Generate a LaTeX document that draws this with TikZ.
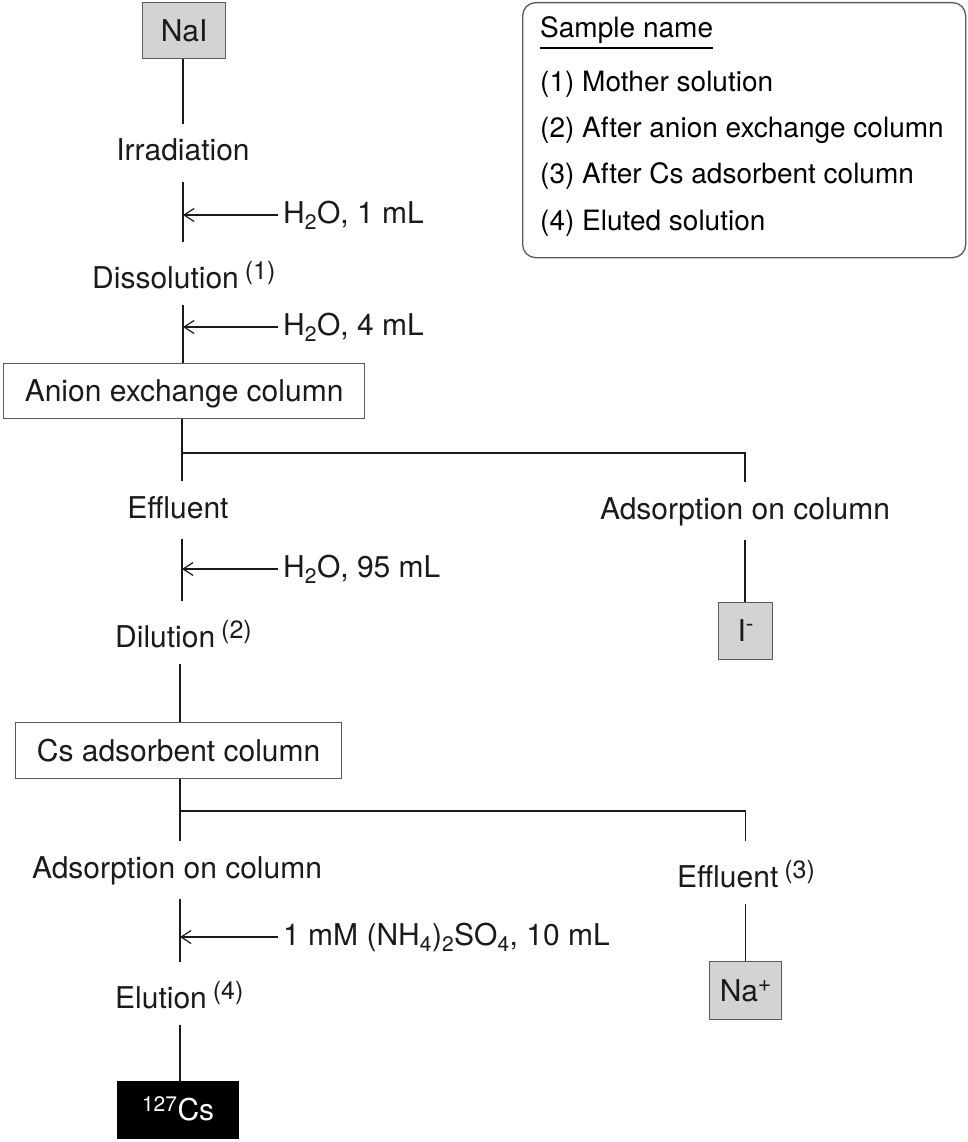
\documentclass[tikz,border=0pt]{standalone}
\usepackage{fontspec}
\setmainfont{TeX Gyre Heros}
\usetikzlibrary{arrows.meta}
\definecolor{linec}{HTML}{1A1A1A}
\definecolor{boxgray}{HTML}{5A5A5A}
\definecolor{fillgray}{HTML}{D3D3D3}
\newcommand\fsmain{\fontsize{30}{36}\selectfont}
\newcommand\fsleg{\fontsize{28}{34}\selectfont}
\newcommand\ulbox[1]{\setbox0=\hbox{#1}\rlap{\rule[-11pt]{\wd0}{1.6pt}}\box0}
\newcommand\supn[1]{\hspace{6pt}\raisebox{9pt}{\fontsize{25}{26}\selectfont #1}}
\newcommand\supi[1]{\raisebox{10pt}{\fontsize{23}{24}\selectfont #1}}
\tikzset{
  txt/.style={font=\fsmain, text=linec, text height=22pt, text depth=6pt, inner xsep=0pt, inner ysep=15pt},
  txts/.style={font=\fsmain, text=linec, text height=34pt, text depth=5pt, inner xsep=0pt, inner ysep=12pt},
  lab/.style={font=\fsmain, text=linec, text height=22pt, text depth=6pt, inner xsep=5pt, inner ysep=0pt, anchor=west},
  legt/.style={font=\fsleg, text=black, inner sep=0pt, anchor=base west},
  wbox/.style={draw=boxgray, line width=1.2pt, fill=white, font=\fsmain, text=linec, text height=21pt, text depth=0pt, inner sep=0pt, anchor=north west},
  gbox/.style={wbox, fill=fillgray},
  bbox/.style={wbox, draw=black, fill=black, text=white},
  conn/.style={draw=linec, line width=1.3pt},
  arw/.style={conn, -{Straight Barb[length=10pt,width=13pt,line width=1.2pt]}},
}
\begin{document}
\begin{tikzpicture}[x=1pt,y=-1pt]
\useasboundingbox (0,0) rectangle (968,1142);

% legend
\node[draw=boxgray, line width=1.3pt, rounded corners=13pt, minimum width=443pt, minimum height=255pt, inner sep=0pt, anchor=north west] (leg) at (522,2) {};
\node[legt] (lg0) at (540,38) {\ulbox{Sample name}};
\node[legt] (lg1) at (540,92) {(1) Mother solution};
\node[legt] (lg2) at (540,138) {(2) After anion exchange column};
\node[legt] (lg3) at (540,184) {(3) After Cs adsorbent column};
\node[legt] (lg4) at (540,230) {(4) Eluted solution};

% main column
\node[gbox, minimum width=83pt, minimum height=56pt] (nai) at (142,2) {NaI};
\node[txt, anchor=base] (irr) at (183,161) {Irradiation};
\node[txts, anchor=base west] (dis) at (92,288) {Dissolution\supn{(1)}};
\node[wbox, minimum width=361pt, minimum height=55pt] (aex) at (3,363) {Anion exchange column};
\node[txt, anchor=base] (eff) at (178,518) {Effluent};
\node[txt, anchor=base] (adsR) at (745,519) {Adsorption on column};
\node[gbox, minimum width=54pt, minimum height=57pt] (iminus) at (718,602) {I\supi{-}};
\node[txts, anchor=base west] (dil) at (115,647) {Dilution\supn{(2)}};
\node[wbox, minimum width=326pt, minimum height=56pt] (csb) at (15,722) {Cs adsorbent column};
\node[txt, anchor=base] (adsL) at (177,878) {Adsorption on column};
\node[txts, anchor=base west] (effR) at (677,887) {Effluent\supn{(3)}};
\node[gbox, minimum width=72pt, minimum height=58pt] (naplus) at (709,961) {Na\supi{+}};
\node[txts, anchor=base west] (elu) at (115,1008) {Elution\supn{(4)}};
\node[bbox, minimum width=121pt, minimum height=57pt] (cs) at (117,1081) {\textsuperscript{127}Cs};

% reagent labels
\node[lab] (w1) at (278,215) {H\textsubscript{2}O, 1 mL};
\node[lab] (w2) at (278,327) {H\textsubscript{2}O, 4 mL};
\node[lab] (w3) at (278,569) {H\textsubscript{2}O, 95 mL};
\node[lab] (w4) at (278,937) {1 mM (NH\textsubscript{4})\textsubscript{2}SO\textsubscript{4}, 10 mL};

\coordinate (s1) at (183,0);
\coordinate (s2) at (182,0);
\coordinate (s3) at (180,0);
\coordinate (br1) at (182,453);
\coordinate (br2) at (180,811);

% connectors
\draw[conn] (s1 |- nai.south) -- (s1 |- irr.north);
\draw[conn] (s1 |- irr.south) -- (s1 |- dis.north);
\draw[conn] (s1 |- dis.south) -- (s1 |- aex.north);
\draw[conn] (s2 |- aex.south) -- (s2 |- eff.north);
\draw[conn] (br1) -| (adsR.north);
\draw[conn] (adsR.south) -- (adsR.south |- iminus.north);
\draw[conn] (s2 |- eff.south) -- (s2 |- dil.north);
\draw[conn] (s3 |- dil.south) -- (s3 |- csb.north);
\draw[conn] (s3 |- csb.south) -- (s3 |- adsL.north);
\draw[conn] (br2) -| (naplus.north |- effR.north);
\draw[conn] (naplus.north |- effR.south) -- (naplus.north);
\draw[conn] (s3 |- adsL.south) -- (s3 |- elu.north);
\draw[conn] (s3 |- elu.south) -- (s3 |- cs.north);

% reagent arrows
\draw[arw] (w1.west) -- (w1.west -| s1);
\draw[arw] (w2.west) -- (w2.west -| s1);
\draw[arw] (w3.west) -- (w3.west -| s2);
\draw[arw] (w4.west) -- (w4.west -| s3);
\end{tikzpicture}
\end{document}
